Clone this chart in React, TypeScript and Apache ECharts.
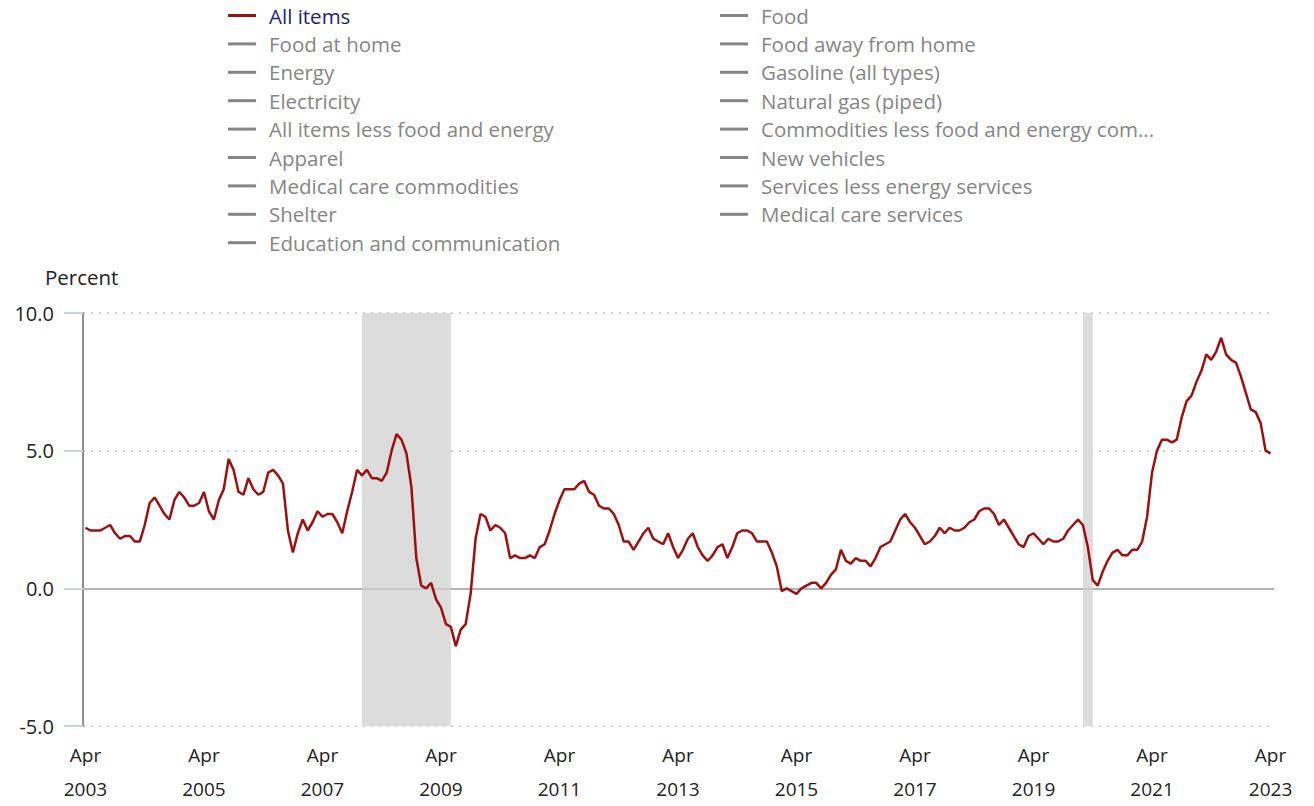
import React, { useEffect, useRef } from "react";
import * as echarts from "echarts";

// Month labels for the category axis (Apr 2003 – Apr 2023)
const MONTHS = ["Jan", "Feb", "Mar", "Apr", "May", "Jun", "Jul", "Aug", "Sep", "Oct", "Nov", "Dec"];
const START_YEAR = 2003;
const START_MONTH = 3; // April (0-based)
const MONTH_COUNT = 241;

// 12-month percent change, All items (Apr 2003 – Apr 2023)
const allItems: number[] = [
  // 2003 Apr–Dec
  2.2, 2.1, 2.1, 2.1, 2.2, 2.3, 2.0, 1.8, 1.9,
  // 2004
  1.9, 1.7, 1.7, 2.3, 3.1, 3.3, 3.0, 2.7, 2.5, 3.2, 3.5, 3.3,
  // 2005
  3.0, 3.0, 3.1, 3.5, 2.8, 2.5, 3.2, 3.6, 4.7, 4.3, 3.5, 3.4,
  // 2006
  4.0, 3.6, 3.4, 3.5, 4.2, 4.3, 4.1, 3.8, 2.1, 1.3, 2.0, 2.5,
  // 2007
  2.1, 2.4, 2.8, 2.6, 2.7, 2.7, 2.4, 2.0, 2.8, 3.5, 4.3, 4.1,
  // 2008
  4.3, 4.0, 4.0, 3.9, 4.2, 5.0, 5.6, 5.4, 4.9, 3.7, 1.1, 0.1,
  // 2009
  0.0, 0.2, -0.4, -0.7, -1.3, -1.4, -2.1, -1.5, -1.3, -0.2, 1.8, 2.7,
  // 2010
  2.6, 2.1, 2.3, 2.2, 2.0, 1.1, 1.2, 1.1, 1.1, 1.2, 1.1, 1.5,
  // 2011
  1.6, 2.1, 2.7, 3.2, 3.6, 3.6, 3.6, 3.8, 3.9, 3.5, 3.4, 3.0,
  // 2012
  2.9, 2.9, 2.7, 2.3, 1.7, 1.7, 1.4, 1.7, 2.0, 2.2, 1.8, 1.7,
  // 2013
  1.6, 2.0, 1.5, 1.1, 1.4, 1.8, 2.0, 1.5, 1.2, 1.0, 1.2, 1.5,
  // 2014
  1.6, 1.1, 1.5, 2.0, 2.1, 2.1, 2.0, 1.7, 1.7, 1.7, 1.3, 0.8,
  // 2015
  -0.1, 0.0, -0.1, -0.2, 0.0, 0.1, 0.2, 0.2, 0.0, 0.2, 0.5, 0.7,
  // 2016
  1.4, 1.0, 0.9, 1.1, 1.0, 1.0, 0.8, 1.1, 1.5, 1.6, 1.7, 2.1,
  // 2017
  2.5, 2.7, 2.4, 2.2, 1.9, 1.6, 1.7, 1.9, 2.2, 2.0, 2.2, 2.1,
  // 2018
  2.1, 2.2, 2.4, 2.5, 2.8, 2.9, 2.9, 2.7, 2.3, 2.5, 2.2, 1.9,
  // 2019
  1.6, 1.5, 1.9, 2.0, 1.8, 1.6, 1.8, 1.7, 1.7, 1.8, 2.1, 2.3,
  // 2020
  2.5, 2.3, 1.5, 0.3, 0.1, 0.6, 1.0, 1.3, 1.4, 1.2, 1.2, 1.4,
  // 2021
  1.4, 1.7, 2.6, 4.2, 5.0, 5.4, 5.4, 5.3, 5.4, 6.2, 6.8, 7.0,
  // 2022
  7.5, 7.9, 8.5, 8.3, 8.6, 9.1, 8.5, 8.3, 8.2, 7.7, 7.1, 6.5,
  // 2023 Jan–Apr
  6.4, 6.0, 5.0, 4.9,
];

// Legend columns (left column, right column)
const legendLeft = [
  "All items",
  "Food at home",
  "Energy",
  "Electricity",
  "All items less food and energy",
  "Apparel",
  "Medical care commodities",
  "Shelter",
  "Education and communication",
];
const legendRight = [
  "Food",
  "Food away from home",
  "Gasoline (all types)",
  "Natural gas (piped)",
  "Commodities less food and energy commodities",
  "New vehicles",
  "Services less energy services",
  "Medical care services",
];

// Recession periods
const recessions: [string, string][] = [
  ["Dec 2007", "Jun 2009"],
  ["Feb 2020", "Apr 2020"],
];

const yTicks = { min: -5, max: 10, interval: 5 };

function buildCategories(): string[] {
  const out: string[] = [];
  for (let i = 0; i < MONTH_COUNT; i++) {
    const m = START_MONTH + i;
    out.push(MONTHS[m % 12] + " " + (START_YEAR + Math.floor(m / 12)));
  }
  return out;
}

const FONT = "'Open Sans', 'Noto Sans', sans-serif";

export default function App() {
  const ref = useRef<HTMLDivElement>(null);

  useEffect(() => {
    if (!ref.current) return;
    const chart = echarts.init(ref.current, null, { renderer: "svg" });
    const categories = buildCategories();
    const allNames = [...legendLeft, ...legendRight];
    const selected: Record<string, boolean> = {};
    allNames.forEach((n) => (selected[n] = n === "All items"));

    const legendCommon = {
      orient: "vertical" as const,
      icon: "rect",
      itemWidth: 28,
      itemHeight: 3,
      itemGap: 7.4,
      padding: 0,
      inactiveColor: "#858585",
      selectedMode: true,
      selected,
      textStyle: {
        color: "#22227a",
        fontFamily: FONT,
        fontSize: 20.5,
        lineHeight: 20,
        padding: [0, 0, 0, 8],
      },
      formatter: (name: string) => (name.length > 40 ? name.slice(0, 36) + "..." : name),
    };

    const otherSeries = allNames
      .filter((n) => n !== "All items")
      .map((n) => ({
        name: n,
        type: "line",
        data: [] as number[],
        showSymbol: false,
        color: "#888888",
      }));

    chart.setOption({
      animation: false,
      title: {
        text: "Percent",
        left: 45,
        top: 266,
        padding: 0,
        textStyle: { fontFamily: FONT, fontSize: 20.5, fontWeight: "normal", color: "#222" },
      },
      legend: [
        { ...legendCommon, data: legendLeft, left: 228, top: 5 },
        { ...legendCommon, data: legendRight, left: 720, top: 5 },
      ],
      grid: { left: 83, right: 41, top: 313, bottom: 73, containLabel: false },
      xAxis: {
        type: "category",
        data: categories,
        boundaryGap: true,
        axisLine: { show: true, lineStyle: { color: "#8a8a8a", width: 2 } },
        axisTick: { show: false },
        axisLabel: {
          interval: (i: number) => i % 24 === 0,
          formatter: (v: string) => v.replace(" ", "\n"),
          fontFamily: FONT,
          fontSize: 19,
          lineHeight: 34,
          color: "#222",
          margin: 12,
        },
        splitLine: { show: false },
      },
      yAxis: {
        type: "value",
        min: yTicks.min,
        max: yTicks.max,
        interval: yTicks.interval,
        axisLine: { show: true, lineStyle: { color: "#8f8f8f", width: 2 } },
        axisTick: { show: true, length: 19, lineStyle: { color: "#c4d3ea", width: 2 } },
        axisLabel: {
          formatter: (v: number) => v.toFixed(1),
          fontFamily: FONT,
          fontSize: 20,
          color: "#222",
          margin: 29,
        },
        splitLine: { show: true, lineStyle: { color: "#bdbdbd", type: [2, 6], width: 1.5 } },
      },
      series: [
        {
          name: "All items",
          type: "line",
          data: allItems,
          showSymbol: false,
          symbol: "none",
          color: "#9c1010",
          lineStyle: { color: "#9c1010", width: 2.5 },
          z: 5,
          markArea: {
            silent: true,
            itemStyle: { color: "#dcdcdc" },
            data: recessions.map(([a, b]) => [{ xAxis: a }, { xAxis: b }]),
          },
          markLine: {
            silent: true,
            symbol: "none",
            label: { show: false },
            lineStyle: { color: "#c2c2c2", type: "solid", width: 1.5 },
            data: [{ yAxis: 0 }],
          },
        },
        ...otherSeries,
      ],
    });
    return () => chart.dispose();
  }, []);

  return (
    <div
      ref={ref}
      style={{ position: "fixed", left: 0, top: 0, width: 1314, height: 806, background: "#fff" }}
    />
  );
}
